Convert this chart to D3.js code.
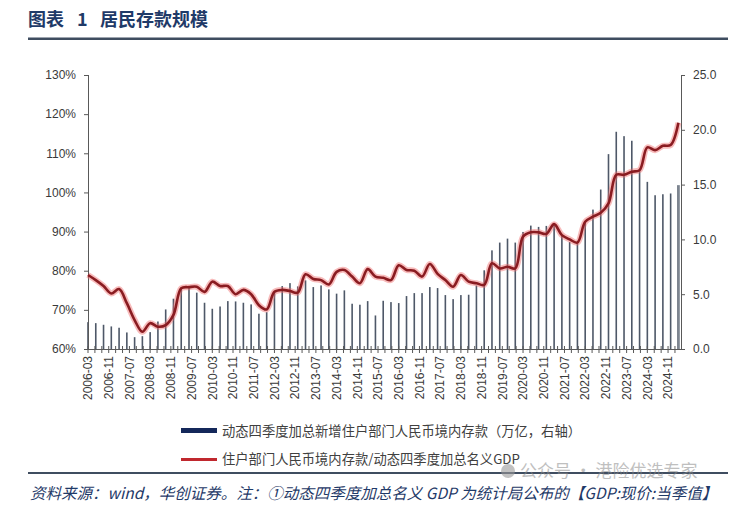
<!DOCTYPE html>
<html>
<head>
<meta charset="utf-8">
<script src="https://cdn.jsdelivr.net/npm/d3@7/dist/d3.min.js"></script>
<style>
  html, body { margin: 0; padding: 0; background: #fff; }
  svg { display: block; }
</style>
</head>
<body>
<svg id="chart" width="754" height="513"></svg>
<script>
// ---- data ----
const quarters = [
  "2006-03","2006-06","2006-09","2006-12","2007-03","2007-06","2007-09","2007-12",
  "2008-03","2008-06","2008-09","2008-12","2009-03","2009-06","2009-09","2009-12",
  "2010-03","2010-06","2010-09","2010-12","2011-03","2011-06","2011-09","2011-12",
  "2012-03","2012-06","2012-09","2012-12","2013-03","2013-06","2013-09","2013-12",
  "2014-03","2014-06","2014-09","2014-12","2015-03","2015-06","2015-09","2015-12",
  "2016-03","2016-06","2016-09","2016-12","2017-03","2017-06","2017-09","2017-12",
  "2018-03","2018-06","2018-09","2018-12","2019-03","2019-06","2019-09","2019-12",
  "2020-03","2020-06","2020-09","2020-12","2021-03","2021-06","2021-09","2021-12",
  "2022-03","2022-06","2022-09","2022-12","2023-03","2023-06","2023-09","2023-12",
  "2024-03","2024-06","2024-09","2024-12","2025-03"
];
// 动态四季度加总新增住户部门人民币境内存款（万亿，右轴）
const newDeposits = [
  2.45, 2.36, 2.21, 2.06, 1.94, 1.51, 1.08, 1.17, 1.54, 2.51,
  3.61, 4.59, 5.50, 5.65, 5.14, 4.22, 3.67, 3.88, 4.37, 4.34,
  4.22, 4.07, 3.22, 3.36, 5.19, 5.74, 6.01, 5.71, 6.26, 5.65,
  5.80, 5.44, 5.05, 5.35, 4.13, 4.04, 4.37, 3.06, 4.40, 4.28,
  4.19, 4.83, 5.10, 5.10, 5.65, 5.56, 4.92, 4.55, 4.92, 4.95,
  5.80, 7.18, 9.00, 9.71, 10.07, 9.71, 10.68, 11.26, 11.14, 11.23,
  11.44, 10.37, 9.76, 9.61, 11.59, 12.72, 14.55, 17.78, 19.82, 19.42,
  19.00, 16.32, 15.25, 14.03, 14.12, 14.19, 14.95
];
// 住户部门人民币境内存款/动态四季度加总名义GDP（%）
const depositToGdp = [
  78.9, 77.6, 76.1, 74.2, 75.3, 71.7, 67.4, 64.4, 66.6, 65.7,
  66.1, 68.7, 75.5, 75.8, 75.9, 74.6, 77.2, 76.1, 76.1, 74.0,
  75.1, 74.0, 71.2, 70.1, 74.6, 75.1, 74.8, 74.4, 79.1, 77.9,
  77.6, 76.5, 79.7, 80.2, 78.5, 76.8, 80.4, 78.5, 78.2, 77.6,
  81.4, 80.2, 80.0, 78.5, 81.7, 79.2, 77.6, 75.9, 78.9, 77.2,
  76.8, 76.4, 81.9, 80.6, 81.0, 80.6, 88.7, 89.8, 89.8, 89.4,
  91.9, 89.1, 88.0, 87.2, 92.5, 93.8, 94.8, 97.2, 104.5, 104.5,
  105.3, 105.7, 111.5, 110.8, 111.9, 112.1, 117.8
];
const xTickLabels = [
  "2006-03","2006-11","2007-07","2008-03","2008-11","2009-07","2010-03","2010-11",
  "2011-07","2012-03","2012-11","2013-07","2014-03","2014-11","2015-07","2016-03",
  "2016-11","2017-07","2018-03","2018-11","2019-07","2020-03","2020-11","2021-07",
  "2022-03","2022-11","2023-07","2024-03","2024-11"
];
const leftTicks = [60, 70, 80, 90, 100, 110, 120, 130];
const rightTicks = [0, 5, 10, 15, 20, 25];

const titleParts = ["图表", "1", "居民存款规模"];
const legendBar = "动态四季度加总新增住户部门人民币境内存款（万亿，右轴）";
const legendLine = "住户部门人民币境内存款/动态四季度加总名义GDP";
const sourceText = "资料来源：wind，华创证券。注：①动态四季度加总名义 GDP 为统计局公布的【GDP:现价:当季值】";
const watermark = "公众号 · 港险优选专家";

// ---- helpers ----
const monthIndex = s => { const [y, m] = s.split("-").map(Number); return (y - 2006) * 12 + (m - 3); };

const svg = d3.select("#chart");
const L = 88, R = 681, T = 75, B = 349;

const x = d3.scaleLinear().domain([0, 229]).range([L, R]);
const yL = d3.scaleLinear().domain([60, 130]).range([B, T]);
const yR = d3.scaleLinear().domain([0, 25]).range([B, T]);

const axisColor = "#595959";
const labelFont = "'Liberation Sans', Arial, sans-serif";
const cjkFont = "'Noto Sans CJK SC', 'Noto Sans', sans-serif";

// title
const titleX = [28, 77, 100];
svg.append("g").selectAll("text").data(titleParts).join("text")
  .attr("x", (d, i) => titleX[i]).attr("y", 26)
  .attr("font-family", cjkFont).attr("font-weight", 700).attr("font-size", 18)
  .attr("fill", "#1f3a68").text(d => d);
svg.append("rect").attr("x", 28).attr("y", 37.5).attr("width", 700).attr("height", 2.5).attr("fill", "#3f4d60");

// bars
const barData = quarters.map((q, i) => ({ m: monthIndex(q), v: newDeposits[i], last: i === quarters.length - 1 }));
svg.append("g").selectAll("rect").data(barData).join("rect")
  .attr("x", d => x(d.m) - (d.last ? 1.4 : 0.8))
  .attr("width", d => d.last ? 2.8 : 1.6)
  .attr("y", d => yR(d.v))
  .attr("height", d => B - yR(d.v))
  .attr("fill", d => d.last ? "#7d8590" : "#4e5868");

// axes lines
const gAx = svg.append("g").attr("stroke", axisColor).attr("stroke-width", 1).attr("shape-rendering", "crispEdges");
gAx.append("line").attr("x1", L).attr("x2", L).attr("y1", T).attr("y2", B);
gAx.append("line").attr("x1", R).attr("x2", R).attr("y1", T).attr("y2", B);
gAx.append("line").attr("x1", L).attr("x2", R).attr("y1", B).attr("y2", B);

// left axis
const leftAxis = d3.axisLeft(yL).tickValues(leftTicks).tickSize(4).tickPadding(8).tickFormat(d => d + "%");
const gl = svg.append("g").attr("transform", `translate(${L},0)`).call(leftAxis);
gl.select(".domain").remove();
gl.selectAll("line").attr("stroke", axisColor);
gl.selectAll("text").attr("font-family", labelFont).attr("font-size", 12).attr("fill", "#3a3a3a");

// right axis
const rightAxis = d3.axisRight(yR).tickValues(rightTicks).tickSize(4).tickPadding(8).tickFormat(d3.format(".1f"));
const gr = svg.append("g").attr("transform", `translate(${R},0)`).call(rightAxis);
gr.select(".domain").remove();
gr.selectAll("line").attr("stroke", axisColor);
gr.selectAll("text").attr("font-family", labelFont).attr("font-size", 12).attr("fill", "#3a3a3a");

// x ticks (minor marks) and labels
const minorMonths = d3.range(0, 229.01, 8 / 3);
svg.append("g").selectAll("line").data(minorMonths).join("line")
  .attr("x1", d => x(d)).attr("x2", d => x(d)).attr("y1", B - 3).attr("y2", B + 4)
  .attr("stroke", axisColor).attr("stroke-width", 1);
svg.append("g").selectAll("text").data(xTickLabels).join("text")
  .attr("transform", d => `translate(${x(monthIndex(d))},${B + 7}) rotate(-90)`)
  .attr("text-anchor", "end").attr("dy", "0.35em")
  .attr("font-family", labelFont).attr("font-size", 12).attr("fill", "#3a3a3a")
  .text(d => d);

// line
const lineData = quarters.map((q, i) => ({ m: monthIndex(q), v: depositToGdp[i] }));
const lineGen = d3.line().x(d => x(d.m)).y(d => yL(d.v)).curve(d3.curveCatmullRom.alpha(0.5));
svg.append("path").datum(lineData).attr("d", lineGen)
  .attr("fill", "none").attr("stroke", "#ef6b6b").attr("stroke-opacity", 0.45)
  .attr("stroke-width", 6).attr("stroke-linejoin", "round");
svg.append("path").datum(lineData).attr("d", lineGen)
  .attr("fill", "none").attr("stroke", "#8a1c21").attr("stroke-width", 2.6).attr("stroke-linejoin", "round");

// legend
const lg = svg.append("g");
lg.append("rect").attr("x", 181).attr("y", 428).attr("width", 36).attr("height", 5).attr("fill", "#14285a");
lg.append("text").attr("x", 222).attr("y", 431).attr("dy", "0.35em")
  .attr("font-family", cjkFont).attr("font-size", 13.3).attr("fill", "#404040").text(legendBar);
lg.append("rect").attr("x", 181).attr("y", 458).attr("width", 36).attr("height", 3).attr("fill", "#c0282e");
lg.append("text").attr("x", 222).attr("y", 459.5).attr("dy", "0.35em")
  .attr("font-family", cjkFont).attr("font-size", 13.3).attr("fill", "#404040").text(legendLine);

// bottom rule and source
svg.append("rect").attr("x", 28).attr("y", 472).attr("width", 700).attr("height", 2).attr("fill", "#3f4d60");
svg.append("text").attr("x", 30).attr("y", 499)
  .attr("font-family", cjkFont).attr("font-style", "italic").attr("font-size", 15.5)
  .attr("fill", "#1f3a68").text(sourceText);

// watermark
svg.append("circle").attr("cx", 508).attr("cy", 471).attr("r", 7).attr("fill", "#9a9a9a").attr("opacity", 0.6);
svg.append("text").attr("x", 520).attr("y", 477)
  .attr("font-family", cjkFont).attr("font-size", 17).attr("fill", "#8c8c8c").attr("opacity", 0.55)
  .text(watermark);
</script>
</body>
</html>
